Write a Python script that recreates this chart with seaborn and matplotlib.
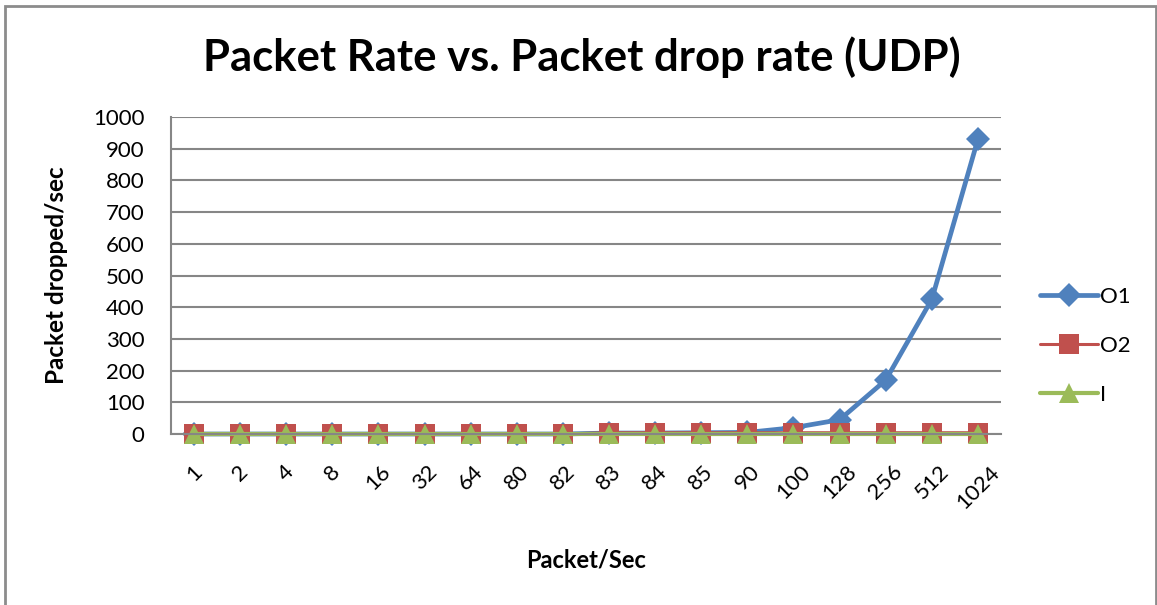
import matplotlib
matplotlib.use("Agg")
import matplotlib.pyplot as plt
import matplotlib.patches as mpatches
import pandas as pd
import seaborn as sns

# Packet rates sent (categories on the x axis)
rates = ["1", "2", "4", "8", "16", "32", "64", "80", "82", "83",
         "84", "85", "90", "100", "128", "256", "512", "1024"]

# Packets dropped per second for each configuration
o1_drops = [0, 0, 0, 0, 0, 0, 0, 0, 0, 3, 3, 4, 5, 20, 45, 170, 425, 930]
o2_drops = [0, 0, 0, 0, 0, 0, 0, 0, 0, 4, 4, 4, 4, 4, 4, 4, 4, 4]
i_drops = [0, 0, 0, 0, 0, 0, 0, 0, 0, 0, 0, 0, 0, 0, 0, 0, 0, 0]

series_names = ["O1", "O2", "I"]
series_colors = {"O1": "#4F81BD", "O2": "#C0504D", "I": "#9BBB59"}
series_markers = {"O1": "D", "O2": "s", "I": "^"}
series_msize = {"O1": 12, "O2": 14, "I": 15}
series_lw = {"O1": 3.4, "O2": 2.2, "I": 3.0}

df = pd.concat([
    pd.DataFrame({"rate": rates, "drops": o1_drops, "series": "O1"}),
    pd.DataFrame({"rate": rates, "drops": o2_drops, "series": "O2"}),
    pd.DataFrame({"rate": rates, "drops": i_drops, "series": "I"}),
], ignore_index=True)

sns.set_theme(style="white")
plt.rcParams["font.family"] = ["Lato", "DejaVu Sans"]
plt.rcParams["text.color"] = "black"
plt.rcParams["axes.labelcolor"] = "black"

fig = plt.figure(figsize=(11.57, 6.05), dpi=100)
ax = fig.add_axes([171 / 1157, 171 / 605, 830 / 1157, 317 / 605])

for name in series_names:
    sub = df[df["series"] == name]
    sns.lineplot(data=sub, x="rate", y="drops", ax=ax, sort=False,
                 color=series_colors[name], linewidth=series_lw[name],
                 marker=series_markers[name], markersize=series_msize[name],
                 markeredgewidth=0, label=name, clip_on=False)

ax.set_xlim(-0.5, len(rates) - 0.5)
ax.set_ylim(0, 1000)
ax.set_yticks(range(0, 1001, 100))
ax.yaxis.grid(True, color="#868686", linewidth=1.5)
ax.xaxis.grid(False)
for side in ("top", "right"):
    ax.spines[side].set_visible(False)
for side in ("left", "bottom"):
    ax.spines[side].set_color("#868686")
    ax.spines[side].set_linewidth(1.5)

ax.tick_params(axis="y", length=0, pad=19, labelsize=16, labelcolor="black")
ax.tick_params(axis="x", length=0, pad=20, labelsize=16, labelcolor="black")
ax.set_xticks(range(len(rates)))
ax.set_xticklabels(rates, rotation=45, ha="center")

ax.set_xlabel("Packet/Sec", fontsize=17, fontweight="bold", labelpad=26)
ax.set_ylabel("Packet dropped/sec", fontsize=17.5, fontweight="bold", labelpad=18)

fig.suptitle("Packet Rate vs. Packet drop rate (UDP)", x=582 / 1157, y=1 - 57 / 605,
             va="center", fontsize=31.4, fontweight="bold", color="black")

handles, labels = ax.get_legend_handles_labels()
ax.legend(handles, labels, loc="center left", bbox_to_anchor=(1040 / 1157, 1 - 346 / 605),
          bbox_transform=fig.transFigure, frameon=False, fontsize=16,
          borderpad=0, borderaxespad=0, handlelength=2.6, handletextpad=0.1,
          labelspacing=1.3, markerscale=1.0)

# Chart-area border
fig.patches.append(mpatches.Rectangle((5 / 1157, -0.05), 1151 / 1157, 1 - 6 / 605 + 0.05,
                                      transform=fig.transFigure, fill=False,
                                      edgecolor="#8C8C8C", linewidth=2))

fig.savefig("out.png", dpi=100, facecolor="white")
